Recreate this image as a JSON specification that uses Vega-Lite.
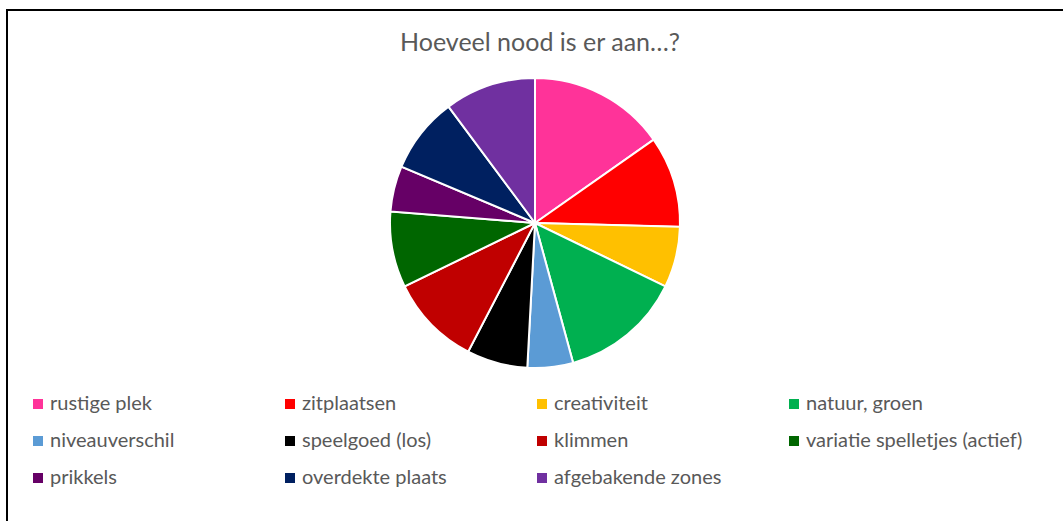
{
  "$schema": "https://vega.github.io/schema/vega-lite/v6.json",
  "width": 1066,
  "height": 521,
  "autosize": {"type": "none"},
  "padding": {"left": 7, "top": 10, "right": -10, "bottom": -10},
  "background": "white",
  "view": {"stroke": "#000000", "strokeWidth": 2},
  "title": {
    "text": "Hoeveel nood is er aan…?",
    "font": "Lato",
    "fontSize": 25,
    "fontWeight": "normal",
    "color": "#595959",
    "anchor": "middle",
    "frame": "group",
    "baseline": "alphabetic",
    "offset": -66
  },
  "data": {
    "values": [
      {"categorie": "rustige plek", "aantal": 9},
      {"categorie": "zitplaatsen", "aantal": 6},
      {"categorie": "creativiteit", "aantal": 4},
      {"categorie": "natuur, groen", "aantal": 8},
      {"categorie": "niveauverschil", "aantal": 3},
      {"categorie": "speelgoed (los)", "aantal": 4},
      {"categorie": "klimmen", "aantal": 6},
      {"categorie": "variatie spelletjes (actief)", "aantal": 5},
      {"categorie": "prikkels", "aantal": 3},
      {"categorie": "overdekte plaats", "aantal": 5},
      {"categorie": "afgebakende zones", "aantal": 6}
    ]
  },
  "transform": [{"window": [{"op": "row_number", "as": "volgorde"}]}],
  "mark": {
    "type": "arc",
    "outerRadius": 145,
    "stroke": "white",
    "strokeWidth": 2,
    "xOffset": -5,
    "yOffset": -47.5
  },
  "encoding": {
    "theta": {"field": "aantal", "type": "quantitative", "stack": true},
    "order": {"field": "volgorde", "type": "quantitative"},
    "color": {
      "field": "categorie",
      "type": "nominal",
      "sort": null,
      "scale": {
        "range": ["#FF3399", "#FF0000", "#FFC000", "#00B050", "#5B9BD5", "#000000", "#C00000", "#006600", "#660066", "#002060", "#7030A0"]
      },
      "legend": {
        "title": null,
        "orient": "none",
        "direction": "horizontal",
        "legendX": 21,
        "legendY": 384,
        "columns": 4,
        "gridAlign": "all",
        "columnPadding": 13,
        "rowPadding": 17,
        "padding": 0,
        "symbolType": "square",
        "symbolSize": 100,
        "symbolStrokeWidth": 0,
        "labelOffset": 2,
        "labelFont": "Lato",
        "labelFontSize": 20,
        "labelColor": "#595959",
        "labelLimit": 400
      }
    }
  },
  "config": {
    "view": {"stroke": "#000000", "strokeWidth": 2}
  }
}
